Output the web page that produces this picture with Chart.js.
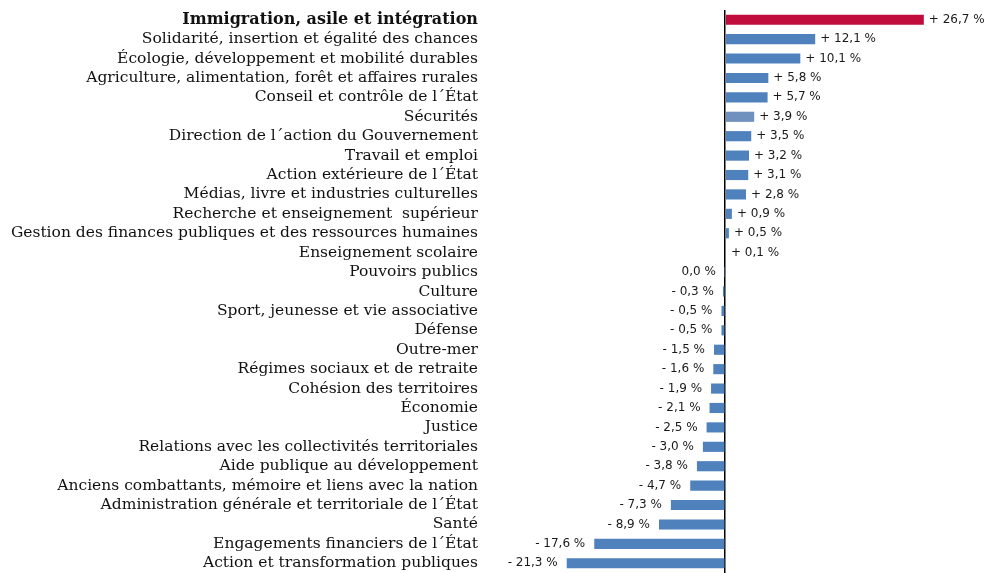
<!DOCTYPE html>
<html>
<head>
<meta charset="utf-8">
<script src="https://cdn.jsdelivr.net/npm/chart.js@4/dist/chart.umd.min.js"></script>
<style>
    html, body { margin: 0; padding: 0; background: #fff; }
    #wrap { width: 998px; height: 573px; position: relative; }
</style>
</head>
<body>
<div id="wrap"><canvas id="chart-missions"></canvas></div>
<script>
const missions = [
    'Immigration, asile et intégration',
    'Solidarité, insertion et égalité des chances',
    'Écologie, développement et mobilité durables',
    'Agriculture, alimentation, forêt et affaires rurales',
    'Conseil et contrôle de l´État',
    'Sécurités',
    'Direction de l´action du Gouvernement',
    'Travail et emploi',
    'Action extérieure de l´État',
    'Médias, livre et industries culturelles',
    'Recherche et enseignement  supérieur',
    'Gestion des finances publiques et des ressources humaines',
    'Enseignement scolaire',
    'Pouvoirs publics',
    'Culture',
    'Sport, jeunesse et vie associative',
    'Défense',
    'Outre-mer',
    'Régimes sociaux et de retraite',
    'Cohésion des territoires',
    'Économie',
    'Justice',
    'Relations avec les collectivités territoriales',
    'Aide publique au développement',
    'Anciens combattants, mémoire et liens avec la nation',
    'Administration générale et territoriale de l´État',
    'Santé',
    'Engagements financiers de l´État',
    'Action et transformation publiques'
];

const evolution = [26.7, 12.1, 10.1, 5.8, 5.7, 3.9, 3.5, 3.2, 3.1, 2.8, 0.9, 0.5, 0.1,
    -0.04, -0.3, -0.5, -0.5, -1.5, -1.6, -1.9, -2.1, -2.5, -3.0, -3.8, -4.7, -7.3, -8.9, -17.6, -21.3];

const BLUE = '#4F81BD';
const RED = '#C00D3B';
const LIGHT_BLUE = '#7090BD';

let barColors = missions.map((m, i) => {
    if (i === 0) return RED;
    if (m === 'Sécurités') return LIGHT_BLUE;
    return BLUE;
});

function formatValue(v) {
    if (Math.abs(v) < 0.05) return '0,0 %';
    let txt = Math.abs(v).toFixed(1).replace('.', ',') + ' %';
    return (v > 0 ? '+ ' : '- ') + txt;
}

const valueLabels = {
    id: 'valueLabels',
    afterDatasetsDraw(chart) {
        let ctx = chart.ctx;
        let meta = chart.getDatasetMeta(0);
        ctx.save();
        ctx.font = '12px "DejaVu Sans"';
        ctx.fillStyle = '#1a1a1a';
        ctx.textBaseline = 'middle';
        meta.data.forEach((bar, i) => {
            let v = evolution[i];
            if (v > 0) {
                ctx.textAlign = 'left';
                ctx.fillText(formatValue(v), bar.x + 5, bar.y);
            } else {
                ctx.textAlign = 'right';
                ctx.fillText(formatValue(v), bar.x - 9, bar.y);
            }
        });
        ctx.restore();
    }
};

new Chart(document.getElementById('chart-missions'), {
    type: 'bar',
    data: {
        labels: missions,
        datasets: [{
            data: evolution,
            backgroundColor: barColors,
            borderWidth: 0,
            barPercentage: 0.55,
            categoryPercentage: 0.95
        }]
    },
    options: {
        indexAxis: 'y',
        responsive: true,
        maintainAspectRatio: false,
        animation: false,
        layout: { padding: { top: 10, right: 5, bottom: 0, left: 0 } },
        plugins: {
            legend: { display: false },
            tooltip: { enabled: false }
        },
        scales: {
            x: {
                min: -30,
                max: 36,
                ticks: { display: false, stepSize: 6 },
                border: { display: false },
                afterFit: scale => { scale.height = 0; },
                grid: {
                    drawTicks: false,
                    lineWidth: 1.5,
                    color: ctx => ctx.tick && ctx.tick.value === 0 ? '#000' : 'rgba(0,0,0,0)'
                }
            },
            y: {
                border: { display: false },
                grid: { display: false, drawTicks: false },
                afterFit: scale => {
                    scale.width = 502;
                    scale.paddingTop = 0;
                    scale.paddingBottom = 0;
                },
                ticks: {
                    padding: 24,
                    color: '#111',
                    autoSkip: false,
                    font: ctx => ctx.index === 0
                        ? { family: '"DejaVu Serif"', size: 16, weight: 'bold' }
                        : { family: '"DejaVu Serif"', size: 15.5 }
                }
            }
        }
    },
    plugins: [valueLabels]
});
</script>
</body>
</html>
